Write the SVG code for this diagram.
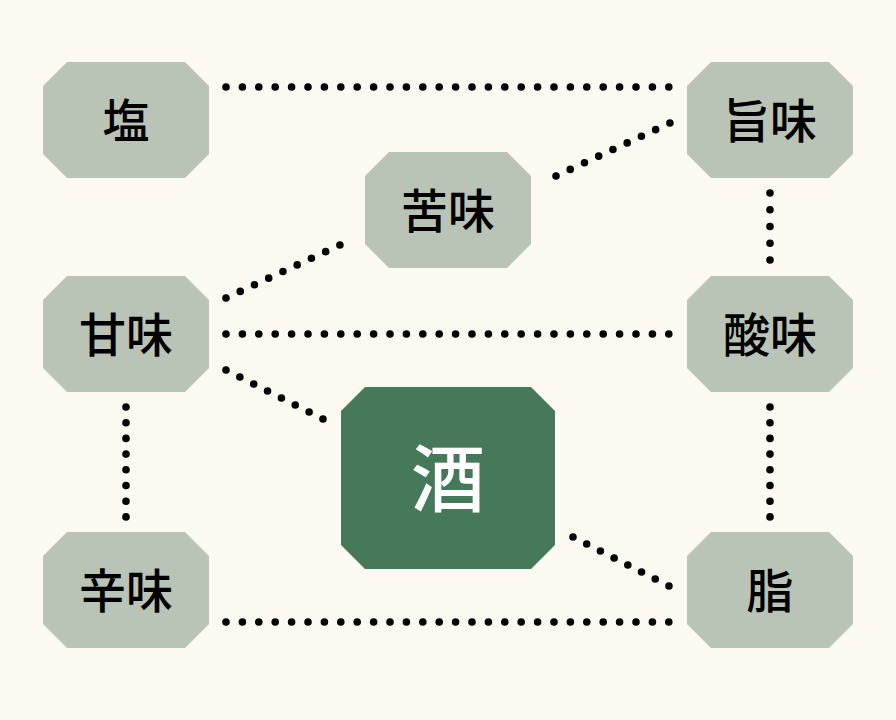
<svg xmlns="http://www.w3.org/2000/svg" xmlns:xlink="http://www.w3.org/1999/xlink" width="896" height="720" viewBox="0 0 896 720">
  <style>
    .bg { fill: #FCF9F2; }
    .node { fill: #B9C4B7; }
    .main { fill: #467959; }
    .lbl { font-family: "Noto Sans CJK JP", "Noto Sans CJK SC", sans-serif; font-size: 47px; font-weight: 500; fill: #000000; text-anchor: middle; }
    .lbl-main { font-family: "Noto Sans CJK JP", "Noto Sans CJK SC", sans-serif; font-size: 74px; font-weight: 500; fill: #FFFFFF; text-anchor: middle; }
    .dot { stroke: #000000; stroke-width: 7.6; stroke-linecap: round; fill: none; }
  </style>
  <defs>
    <polygon id="oct" points="-59,-58 59,-58 83,-34 83,34 59,58 -59,58 -83,34 -83,-34"/>
    <polygon id="octBig" points="-83,-91 83,-91 107,-67 107,67 83,91 -83,91 -107,67 -107,-67"/>
  </defs>
  <rect class="bg" x="0" y="0" width="896" height="720"/>

  <g id="connectors">
    <line class="dot" x1="226" y1="87" x2="669" y2="87" stroke-dasharray="0 16.4"/>
    <line class="dot" x1="556" y1="176" x2="670" y2="123" stroke-dasharray="0 15.7"/>
    <line class="dot" x1="770" y1="193" x2="770" y2="260" stroke-dasharray="0 16.74"/>
    <line class="dot" x1="226" y1="298" x2="340" y2="245" stroke-dasharray="0 15.7"/>
    <line class="dot" x1="226" y1="334" x2="669" y2="334" stroke-dasharray="0 16.4"/>
    <line class="dot" x1="226" y1="370" x2="323" y2="419" stroke-dasharray="0 15.52"/>
    <line class="dot" x1="126" y1="407" x2="126" y2="517" stroke-dasharray="0 15.7"/>
    <line class="dot" x1="770" y1="407" x2="770" y2="517" stroke-dasharray="0 15.7"/>
    <line class="dot" x1="573" y1="537" x2="669" y2="586" stroke-dasharray="0 15.39"/>
    <line class="dot" x1="226" y1="622" x2="669" y2="622" stroke-dasharray="0 16.4"/>
  </g>

  <g id="node-shio">
    <use xlink:href="#oct" x="126" y="120" class="node"/>
    <text class="lbl" x="126" y="138">塩</text>
  </g>
  <g id="node-umami">
    <use xlink:href="#oct" x="770" y="120" class="node"/>
    <text class="lbl" x="770" y="138">旨味</text>
  </g>
  <g id="node-nigami">
    <use xlink:href="#oct" x="448" y="210" class="node"/>
    <text class="lbl" x="448" y="228">苦味</text>
  </g>
  <g id="node-amami">
    <use xlink:href="#oct" x="126" y="334" class="node"/>
    <text class="lbl" x="126" y="352">甘味</text>
  </g>
  <g id="node-sanmi">
    <use xlink:href="#oct" x="770" y="334" class="node"/>
    <text class="lbl" x="770" y="352">酸味</text>
  </g>
  <g id="node-sake">
    <use xlink:href="#octBig" x="448" y="478" class="main"/>
    <text class="lbl-main" x="448" y="506">酒</text>
  </g>
  <g id="node-karami">
    <use xlink:href="#oct" x="126" y="590" class="node"/>
    <text class="lbl" x="126" y="608">辛味</text>
  </g>
  <g id="node-abura">
    <use xlink:href="#oct" x="770" y="590" class="node"/>
    <text class="lbl" x="770" y="608">脂</text>
  </g>
</svg>
